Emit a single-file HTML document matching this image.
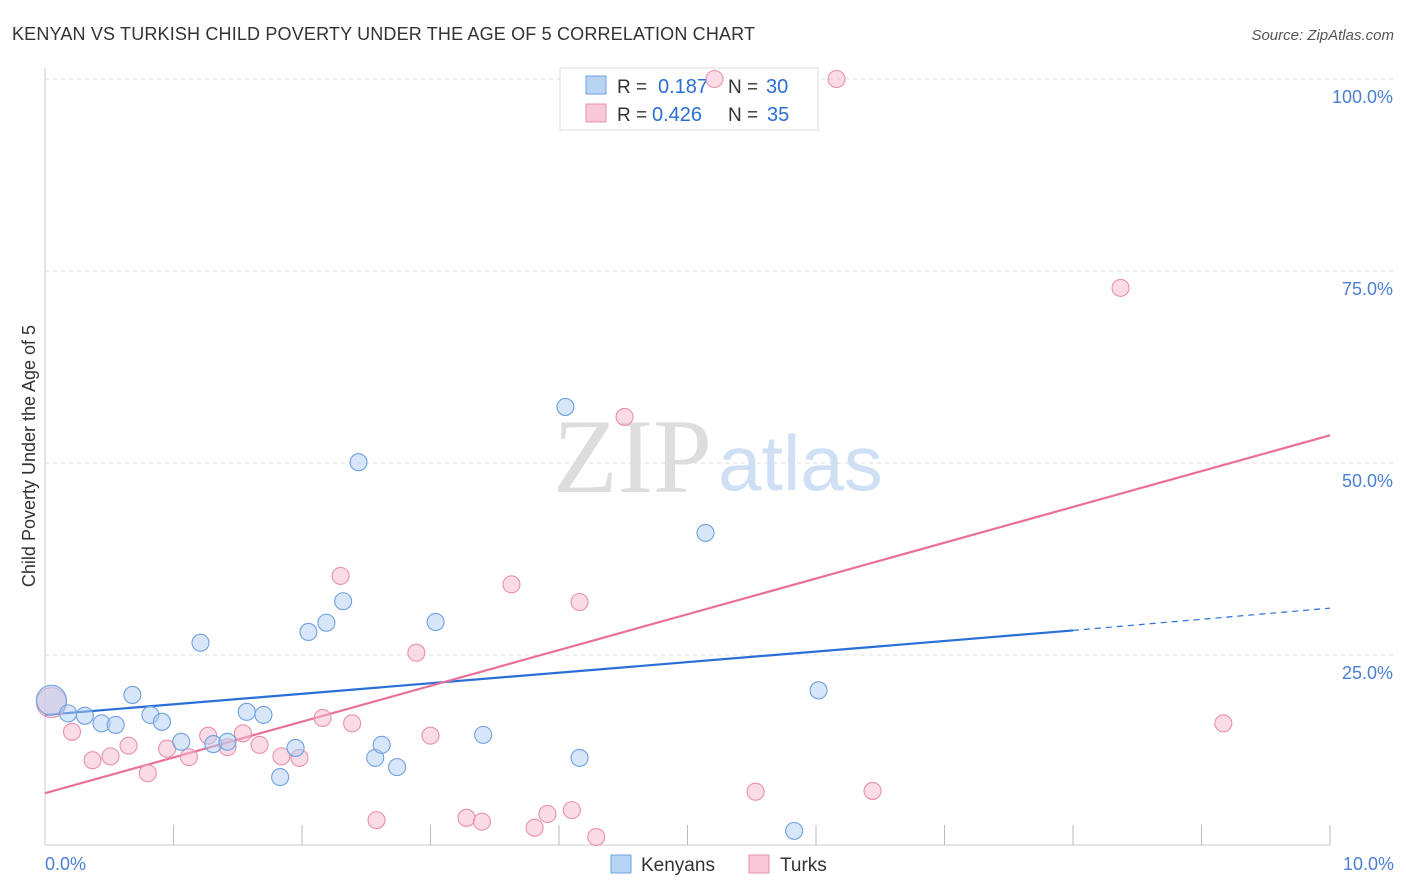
<!DOCTYPE html>
<html><head><meta charset="utf-8"><style>
body{margin:0;background:#fff;font-family:"Liberation Sans",sans-serif;}
#wrap{position:relative;width:1406px;height:892px;overflow:hidden}
</style></head><body>
<div id="wrap">
<svg id="svg" width="1406" height="892" xmlns="http://www.w3.org/2000/svg">
<text x="12" y="40" font-size="18" fill="#333" textLength="743">KENYAN VS TURKISH CHILD POVERTY UNDER THE AGE OF 5 CORRELATION CHART</text>
<text x="1394" y="40" font-size="15" fill="#555" font-style="italic" text-anchor="end">Source: ZipAtlas.com</text>
<text x="553" y="492" font-size="106" fill="#ddd" font-family="Liberation Serif,serif">ZIP</text>
<text x="718" y="490" font-size="78" fill="#cfe0f5">atlas</text>
<g id="grid"></g>
<line x1="45" y1="68" x2="45" y2="845" stroke="#ccc"/>
<line x1="45" y1="845" x2="1330" y2="845" stroke="#ccc"/>
<g id="ticks"></g>
<text x="35" y="456" font-size="18" fill="#333" text-anchor="middle" transform="rotate(-90 35 456)">Child Poverty Under the Age of 5</text>
<text x="45" y="870" font-size="18" fill="#4a7fd4">0.0%</text>
<text x="1394" y="870" font-size="18" fill="#4a7fd4" text-anchor="end">10.0%</text>
<g id="lines"></g>
<g>
<rect x="560" y="68" width="258" height="62" fill="#fff" stroke="#ddd"/>
<rect x="586" y="76" width="20" height="18" fill="#b8d4f5" stroke="#6fa0e0"/>
<rect x="586" y="104" width="20" height="18" fill="#f9c8d8" stroke="#e890b0"/>
<text x="617" y="93" font-size="19" fill="#333">R =</text>
<text x="658" y="93" font-size="20" fill="#2a6fd6">0.187</text>
<text x="728" y="93" font-size="19" fill="#333">N =</text>
<text x="766" y="93" font-size="20" fill="#2a6fd6">30</text>
<text x="617" y="121" font-size="19" fill="#333">R =</text>
<text x="652" y="121" font-size="20" fill="#2a6fd6">0.426</text>
<text x="728" y="121" font-size="19" fill="#333">N =</text>
<text x="767" y="121" font-size="20" fill="#2a6fd6">35</text>
</g>
<g id="pts"></g>
<g>
<rect x="611" y="855" width="20" height="18" fill="#b8d4f5" stroke="#6fa0e0"/>
<text x="641" y="871" font-size="19" fill="#333">Kenyans</text>
<rect x="749" y="855" width="20" height="18" fill="#f9c8d8" stroke="#e890b0"/>
<text x="780" y="871" font-size="19" fill="#333">Turks</text>
</g>
</svg>
</div>
<script>
const yTicks=[25,50,75,100];
const yTickLabels=["25.0%","50.0%","75.0%","100.0%"];
const xTicks=[1,2,3,4,5,6,7,8,9,10];
const kenX=[0.05,0.18,0.31,0.44,0.55,0.68,0.82,0.91,1.06,1.21,1.31,1.42,1.57,1.70,1.83,1.95,2.05,2.19,2.32,2.44,2.57,2.62,2.74,3.04,3.41,4.05,4.16,5.14,5.83,6.02];
const kenY=[19.1,17.4,17.1,16.1,15.9,19.8,17.2,16.3,13.7,26.6,13.4,13.7,17.6,17.2,9.1,12.9,28.0,29.2,32.0,50.1,11.6,13.3,10.4,29.3,14.6,57.3,11.6,40.9,2.1,20.4];
const turX=[0.05,0.21,0.37,0.51,0.65,0.80,0.95,1.12,1.27,1.42,1.54,1.67,1.84,1.98,2.16,2.30,2.39,2.58,2.89,3.00,3.28,3.40,3.63,3.81,3.91,4.10,4.16,4.29,4.51,5.21,5.53,6.16,6.44,8.37,9.17];
const turY=[18.8,15.0,11.3,11.8,13.2,9.6,12.8,11.7,14.5,13.0,14.8,13.3,11.8,11.6,16.8,35.3,16.1,3.5,25.3,14.5,3.8,3.3,34.2,2.5,4.3,4.8,31.9,1.3,56.0,100,7.2,100,7.3,72.8,16.1];
const kenTrend=[17.2,28.2,31.1]; // at x=0, 8, 10
const turTrend=[7.0,53.6];        // at x=0, 10
const NS="http://www.w3.org/2000/svg";
const X=v=>45+v*128.5, Y=v=>847-v*7.68;
function mk(t,a,p){const e=document.createElementNS(NS,t);for(const k in a)e.setAttribute(k,a[k]);p.appendChild(e);return e;}
const grid=document.getElementById('grid');
yTicks.forEach((t,i)=>{
 const l=mk('line',{x1:45,x2:1394,y1:Y(t),y2:Y(t),stroke:'#ddd','stroke-dasharray':'4,4'},grid);
 
 
 const tx=mk('text',{x:1393,y:Y(t)+24,'font-size':18,fill:'#4a7fd4','text-anchor':'end'},grid);
 tx.textContent=yTickLabels[i];
 
 
});
const ticks=document.getElementById('ticks');
xTicks.forEach(t=>{
 const l=mk('line',{x1:X(t),x2:X(t),y1:825,y2:845,stroke:'#bbb'},ticks);
 
 
});
const lines=document.getElementById('lines');
let l1=mk('line',{x1:X(0),y1:Y(kenTrend[0]),x2:X(8),y2:Y(kenTrend[1]),stroke:'#2a6fd6','stroke-width':2.2},lines);


let l2=mk('line',{x1:X(8),y1:Y(kenTrend[1]),x2:X(10),y2:Y(kenTrend[2]),stroke:'#2a6fd6','stroke-width':1.2,'stroke-dasharray':'6,5'},lines);


let l3=mk('line',{x1:X(0),y1:Y(turTrend[0]),x2:X(10),y2:Y(turTrend[1]),stroke:'#e8709a','stroke-width':2.2},lines);


const pts=document.getElementById('pts');
function draw(xs,ys,fill,stroke,name){
 xs.forEach((x,i)=>{
  const c=mk('circle',{cx:X(x),cy:Y(ys[i]),r:i==0?15:8.5,fill:fill,'fill-opacity':0.5,stroke:stroke,'stroke-width':1.1},pts);
  
  
 });
}
draw(turX,turY,'#f7b8cc','#e890b0','turks-point');
draw(kenX,kenY,'#b0cdf2','#6fa0e0','kenyans-point');
</script>
</body></html>
